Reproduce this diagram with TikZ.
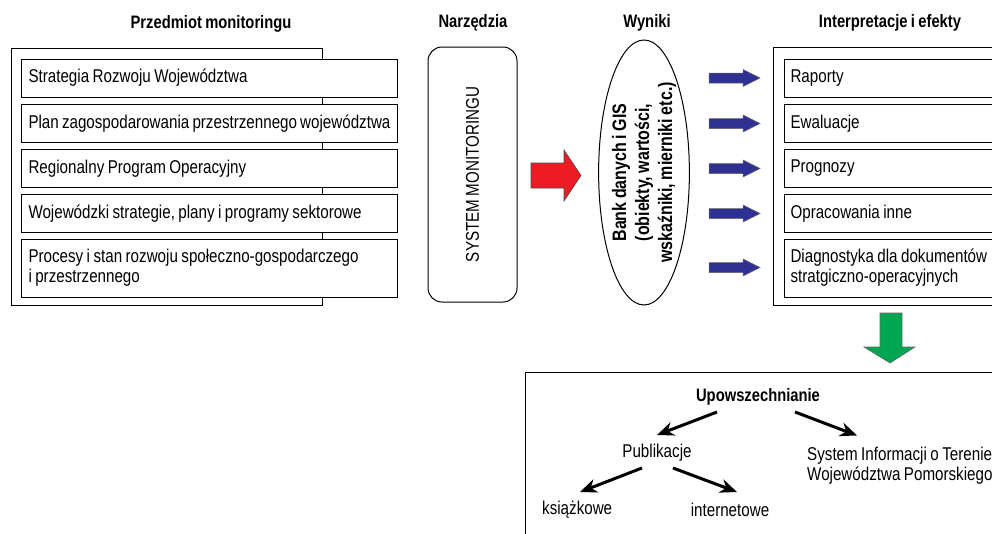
\documentclass[tikz,border=0pt]{standalone}
\usepackage{fontspec}
\setmainfont{Liberation Sans}[FakeStretch=0.82, WordSpace=0.82]
\usetikzlibrary{positioning,shapes.geometric,arrows.meta}
\hyphenpenalty=10000
\exhyphenpenalty=10000
\definecolor{rougefl}{HTML}{ED1C24}
\definecolor{bleufl}{HTML}{2E3192}
\definecolor{vertfl}{HTML}{00A651}
\tikzset{
  titre/.style={font=\fontsize{18}{20}\selectfont\bfseries},
  cadre/.style={draw, line width=1pt},
  boite/.style={draw, fill=white, line width=1pt, anchor=west, align=flush left, inner xsep=7pt},
  fleche/.style={-{Stealth[length=17pt,width=14pt]}, line width=3pt},
}

\begin{document}
\begin{tikzpicture}[x=1pt, y=-1pt, font=\fontsize{18.5}{20}\selectfont]
    \useasboundingbox (0,0) rectangle (992,533);
    \clip (0,0) rectangle (992,533);

    \node[titre] at (211,24) (tpm) {Przedmiot monitoringu};
    \node[titre] at (473,23) (tnarz) {Narzędzia};
    \node[titre] at (647,23) (twyn) {Wyniki};
    \node[titre] at (890,23) (tint) {Interpretacje i efekty};

    \draw[cadre] (11,48) rectangle (322,305);
    \node[boite, text width=362pt, minimum height=38pt] at (21,78) (srw) {Strategia Rozwoju Województwa};
    \node[boite, text width=362pt, minimum height=38pt] at (21,123.5) (pzp) {Plan zagospodarowania przestrzennego województwa};
    \node[boite, text width=362pt, minimum height=38pt] at (21,168.5) (rpo) {Regionalny Program Operacyjny};
    \node[boite, text width=362pt, minimum height=38pt] at (21,213.5) (wsp) {Wojewódzki strategie, plany i programy sektorowe};
    \node[boite, text width=362pt, minimum height=58pt] at (21,268) (proc) {Procesy i stan rozwoju społeczno-gospodarczego\\i przestrzennego};

    \node[draw, line width=1pt, rounded corners=14pt, rotate=90, minimum width=255pt, minimum height=89pt] at (472.5,174.5) (sysmon) {SYSTEM MONITORINGU};

    \filldraw[fill=rougefl, draw=black!70, line width=0.6pt] (531,163) -- (564,163) -- (564,150) -- (581,175.5) -- (564,201) -- (564,188) -- (531,188) -- cycle;

    \node[draw, ellipse, line width=1pt, rotate=90, minimum width=265pt, minimum height=85pt, inner sep=0pt, align=center, font=\fontsize{19.5}{23}\selectfont\bfseries] at (644,172.5) (bank) {Bank danych i GIS\\(obiekty, wartości,\\wskaźniki, mierniki etc.)};

    \foreach \yy in {78,123.5,168.5,213.5,267.5}
      \filldraw[fill=bleufl, draw=black!60, line width=0.5pt] (709,\yy-5) -- (743,\yy-5) -- (743,\yy-8.5) -- (760,\yy) -- (743,\yy+8.5) -- (743,\yy+5) -- (709,\yy+5) -- cycle;

    \draw[cadre] (773,47) rectangle (1010,305);
    \node[boite, text width=230pt, inner xsep=6pt, minimum height=38pt] at (784,78) (rap) {Raporty};
    \node[boite, text width=230pt, inner xsep=6pt, minimum height=38pt] at (784,123.5) (ewal) {Ewaluacje};
    \node[boite, text width=230pt, inner xsep=6pt, minimum height=38pt] at (784,168.5) (prog) {Prognozy};
    \node[boite, text width=230pt, inner xsep=6pt, minimum height=38pt] at (784,213.5) (opr) {Opracowania inne};
    \node[boite, text width=230pt, inner xsep=6pt, minimum height=58pt] at (784,268) (diag) {Diagnostyka dla dokumentów\\stratgiczno-operacyjnych};

    \filldraw[fill=vertfl, draw=black!60, line width=0.6pt] (880,313) -- (902,313) -- (902,347) -- (915,347) -- (890,363) -- (864,347) -- (880,347) -- cycle;

    \draw[cadre] (525,372) rectangle (1010,560);
    \node[titre] at (758,397) (upow) {Upowszechnianie};
    \node at (657,453) (publ) {Publikacje};
    \node[anchor=west, align=left, inner sep=0pt] at (807,465.5) (sit) {System Informacji o Terenie\\Województwa Pomorskiego};
    \node[anchor=west, inner sep=0pt] at (542,510) (ksiaz) {książkowe};
    \node at (730,510) (inter) {internetowe};

    \draw[fleche] ([xshift=-41pt,yshift=-15pt]upow.center) -- ([yshift=18pt]publ.center);
    \draw[fleche] ([xshift=37pt,yshift=-15pt]upow.center) -- ([xshift=50pt,yshift=30pt]sit.west);
    \draw[fleche] ([xshift=-15pt,yshift=-15pt]publ.center) -- ([xshift=38pt,yshift=18pt]ksiaz.west);
    \draw[fleche] ([xshift=16pt,yshift=-15pt]publ.center) -- ([xshift=7pt,yshift=18pt]inter.center);
\end{tikzpicture}
\end{document}
